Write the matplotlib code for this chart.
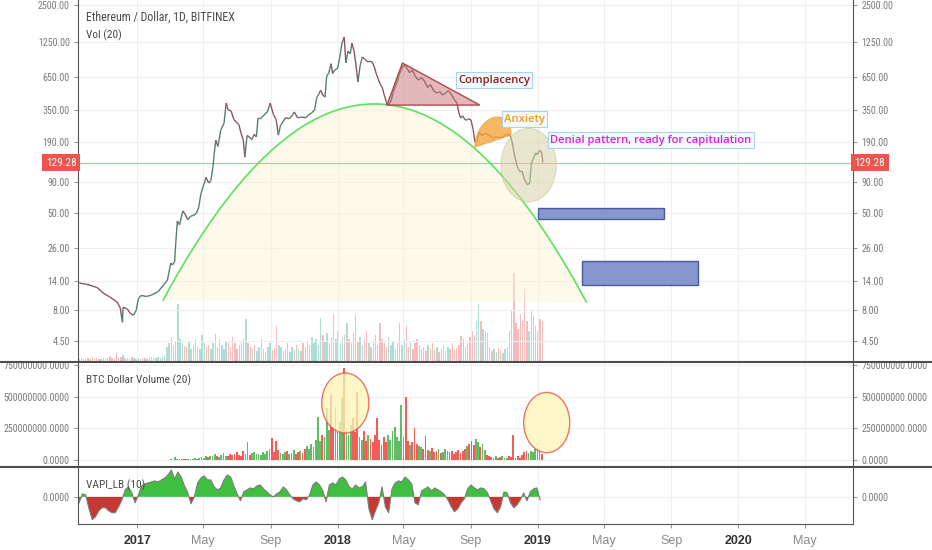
"""
ETH/USD (Bitfinex, 1D) with market-cycle annotations, BTC dollar volume and VAPI panes.
Writes out.png (932x550).
"""
import matplotlib
matplotlib.use("Agg")  # headless
import matplotlib.pyplot as plt
import matplotlib.dates as mdates
import matplotlib.ticker as mticker
from matplotlib import font_manager as fm
from matplotlib.collections import LineCollection
from matplotlib.lines import Line2D
from matplotlib.patches import Polygon, Rectangle, Ellipse
import numpy as np
import pandas as pd

PLAIN = ["Liberation Sans", "DejaVu Sans"]
LABEL = ["Open Sans", "DejaVu Sans"]
plt.rcParams["font.family"] = PLAIN

# ---- price path (closes) ----
price_dates = [
    "2016-09-15", "2016-09-18", "2016-10-03", "2016-10-20", "2016-11-01", "2016-11-12", "2016-11-25",
    "2016-12-01", "2016-12-05", "2016-12-06", "2016-12-14", "2016-12-19", "2016-12-25", "2016-12-30",
    "2017-01-03", "2017-01-08", "2017-01-18", "2017-01-27", "2017-02-07", "2017-02-18", "2017-02-25",
    "2017-03-03", "2017-03-06", "2017-03-10", "2017-03-12", "2017-03-15", "2017-03-19", "2017-03-25",
    "2017-03-28", "2017-04-03", "2017-04-08", "2017-04-14", "2017-04-19", "2017-04-23", "2017-04-27",
    "2017-04-30", "2017-05-04", "2017-05-06", "2017-05-11", "2017-05-15", "2017-05-19", "2017-05-21",
    "2017-05-24", "2017-05-28", "2017-06-02", "2017-06-08", "2017-06-12", "2017-06-15", "2017-06-21",
    "2017-06-26", "2017-07-02", "2017-07-05", "2017-07-09", "2017-07-13", "2017-07-15", "2017-07-16",
    "2017-07-20", "2017-07-24", "2017-07-29", "2017-08-02", "2017-08-06", "2017-08-09", "2017-08-15",
    "2017-08-20", "2017-08-26", "2017-08-30", "2017-08-31", "2017-09-06", "2017-09-11", "2017-09-15",
    "2017-09-19", "2017-09-22", "2017-09-28", "2017-10-05", "2017-10-11", "2017-10-14", "2017-10-20",
    "2017-10-27", "2017-11-04", "2017-11-09", "2017-11-15", "2017-11-20", "2017-11-24", "2017-11-28",
    "2017-12-01", "2017-12-05", "2017-12-09", "2017-12-12", "2017-12-16", "2017-12-20", "2017-12-23",
    "2017-12-27", "2018-01-01", "2018-01-05", "2018-01-09", "2018-01-13", "2018-01-16", "2018-01-20",
    "2018-01-24", "2018-01-27", "2018-01-31", "2018-02-03", "2018-02-05", "2018-02-07", "2018-02-11",
    "2018-02-15", "2018-02-20", "2018-02-25", "2018-03-01", "2018-03-05", "2018-03-09", "2018-03-12",
    "2018-03-16", "2018-03-20", "2018-03-23", "2018-03-27", "2018-03-31", "2018-04-01", "2018-04-05",
    "2018-04-09", "2018-04-12", "2018-04-16", "2018-04-20", "2018-04-23", "2018-04-27", "2018-05-01",
    "2018-05-06", "2018-05-12", "2018-05-17", "2018-05-23", "2018-05-28", "2018-06-03", "2018-06-08",
    "2018-06-14", "2018-06-19", "2018-06-25", "2018-06-30", "2018-07-06", "2018-07-11", "2018-07-17",
    "2018-07-22", "2018-07-28", "2018-08-02", "2018-08-06", "2018-08-10", "2018-08-13", "2018-08-17",
    "2018-08-21", "2018-08-24", "2018-08-28", "2018-09-01", "2018-09-05", "2018-09-08", "2018-09-12",
    "2018-09-16", "2018-09-21", "2018-09-27", "2018-10-04", "2018-10-11", "2018-10-19", "2018-10-26",
    "2018-11-02", "2018-11-08", "2018-11-12", "2018-11-15", "2018-11-19", "2018-11-23", "2018-11-26",
    "2018-11-30", "2018-12-03", "2018-12-07", "2018-12-11", "2018-12-13", "2018-12-17", "2018-12-20",
    "2018-12-24", "2018-12-28", "2018-12-31", "2019-01-04", "2019-01-08", "2019-01-10",
]
price_close = [
    13.5, 13.4, 13.0, 12.3, 11.0, 10.3, 9.4,
    8.4, 6.4, 8.5, 8.2, 7.6, 7.3, 8.0,
    10.0, 10.6, 10.4, 10.7, 11.3, 12.9, 14.2,
    19.5, 18.8, 20.0, 28.0, 43.0, 40.0, 52.0,
    50.0, 44.0, 47.0, 48.0, 50.0, 56.0, 72.0,
    80.0, 90.0, 98.0, 88.0, 92.0, 120.0, 150.0,
    197.0, 175.0, 238.0, 270.0, 396.0, 350.0, 340.0,
    290.0, 272.0, 265.0, 225.0, 200.0, 160.0, 143.0,
    215.0, 209.0, 200.0, 220.0, 209.0, 300.0, 300.0,
    316.0, 335.0, 380.0, 396.0, 320.0, 290.0, 217.0,
    260.0, 272.0, 300.0, 295.0, 316.0, 335.0, 300.0,
    304.0, 300.0, 316.0, 330.0, 347.0, 440.0, 470.0,
    505.0, 460.0, 443.0, 650.0, 700.0, 830.0, 690.0,
    737.0, 760.0, 940.0, 1224.0, 1370.0, 840.0, 1050.0,
    1000.0, 1224.0, 1050.0, 840.0, 700.0, 587.0, 800.0,
    940.0, 900.0, 855.0, 870.0, 855.0, 780.0, 696.0,
    620.0, 560.0, 535.0, 460.0, 400.0, 381.0, 390.0,
    420.0, 480.0, 540.0, 600.0, 680.0, 740.0, 809.0,
    780.0, 700.0, 737.0, 650.0, 610.0, 640.0, 600.0,
    530.0, 560.0, 500.0, 478.0, 490.0, 460.0, 478.0,
    500.0, 460.0, 419.0, 400.0, 330.0, 299.0, 310.0,
    290.0, 287.0, 295.0, 287.0, 240.0, 190.0, 195.0,
    229.0, 215.0, 225.0, 217.0, 205.0, 210.0, 205.0,
    217.0, 220.0, 212.0, 190.0, 150.0, 125.0, 115.0,
    108.0, 110.0, 95.0, 88.0, 85.0, 88.0, 128.0,
    140.0, 155.0, 150.0, 163.0, 155.0, 129.28,
]
LAST_PRICE = 129.28

# ---- ETH volume, 4-day buckets from vol_start (thousand ETH) ----
vol_start = "2016-09-15"
eth_volume = [
    2, 3, 2, 2, 3, 2, 4, 2, 3, 2,
    2, 3, 2, 3, 5, 3, 2, 8, 3, 4,
    6, 3, 3, 2, 4, 3, 2, 3, 2, 3,
    3, 2, 3, 4, 3, 3, 4, 3, 4, 5,
    14, 18, 24, 16, 20, 57, 22, 18, 15, 14,
    20, 12, 16, 22, 14, 12, 26, 18, 14, 16,
    12, 18, 27, 14, 22, 16, 12, 20, 18, 14,
    24, 18, 12, 16, 20, 22, 42, 18, 14, 12,
    16, 10, 14, 22, 12, 9, 14, 18, 11, 13,
    35, 16, 14, 10, 12, 18, 9, 14, 11, 16,
    12, 10, 18, 14, 20, 16, 24, 18, 22, 16,
    43, 26, 20, 28, 18, 24, 47, 22, 30, 18,
    24, 26, 38, 22, 18, 28, 47, 20, 24, 16,
    22, 30, 18, 14, 20, 26, 16, 38, 22, 18,
    14, 24, 16, 20, 12, 18, 38, 16, 22, 35,
    14, 20, 12, 18, 22, 16, 12, 14, 10, 16,
    12, 18, 11, 14, 9, 12, 16, 10, 14, 12,
    18, 11, 13, 16, 25, 22, 14, 18, 24, 30,
    26, 40, 57, 40, 32, 30, 28, 14, 10, 12,
    9, 13, 11, 8, 12, 14, 30, 50, 88, 38,
    32, 47, 40, 72, 40, 30, 50, 45, 35, 30,
    42, 40,
]

# ---- BTC dollar volume (20), 4-day buckets, million USD ----
btc_start = "2017-02-25"
btc_dollar_vol = [
    3, 5, 4, 24, 8, 5, 7, 10, 6, 8,
    12, 9, 14, 10, 18, 25, 20, 30, 22, 35,
    28, 45, 30, 25, 40, 55, 32, 28, 45, 38,
    50, 60, 42, 35, 70, 48, 142, 40, 55, 62,
    45, 50, 38, 60, 48, 70, 90, 174, 65, 150,
    80, 55, 48, 62, 70, 45, 58, 79, 50, 62,
    75, 58, 90, 110, 85, 130, 100, 160, 339, 150,
    200, 180, 410, 240, 513, 260, 420, 220, 300, 489,
    726, 250, 200, 280, 331, 220, 537, 180, 160, 230,
    150, 197, 170, 140, 200, 331, 160, 120, 180, 140,
    200, 160, 230, 260, 180, 150, 434, 180, 497, 150,
    120, 140, 252, 130, 110, 100, 90, 189, 80, 70,
    95, 60, 75, 85, 55, 65, 90, 70, 60, 75,
    50, 65, 80, 55, 70, 90, 110, 130, 150, 120,
    166, 140, 100, 130, 80, 40, 30, 25, 20, 28,
    18, 24, 30, 15, 20, 35, 25, 197, 18, 30,
    20, 40, 60, 75, 55, 70, 60, 85, 95, 70,
    50,
]

# ---- VAPI_LB (10), 6-day steps ----
vapi_start = "2016-09-17"
vapi = [
    -6, 3, 2, -12, -23, -20, -14, -11, -11, -14,
    -16, -16, -10, -3, 7, 10, 4, -6, 2, 11,
    13, 14, 15, 16, 15, 17, 19, 22, 27, 18,
    25, 20, 11, 4, -7, 0, 14, 19, 21, 17,
    17, 10, 7, 9, 17, 22, 20, 11, 3, -4,
    5, 7, 9, 8, 11, 12, 8, 5, 2, 0,
    3, 5, 10, 7, 2, -2, -4, -5, -2, -3,
    2, 12, 15, 12, 6, -5, 12, 14, 12, 18,
    20, 17, 10, 8, 12, 9, 10, 15, -12, -23,
    -14, -6, 10, -10, -16, 8, 14, 16, 15, 20,
    17, 13, -6, -8, 6, 8, 10, 6, 9, 7,
    5, 2, -3, -10, -15, -12, -6, -2, 8, 12,
    9, 7, 9, 8, 4, -4, -12, -16, -10, 5,
    4, -6, -11, -8, -3, 4, -4, 5, 8, 9,
    -3,
]

# ---- drawings (anchors as date, price) ----
arc_anchors = [("2017-02-17", 9.7), ("2018-03-19", 388.0), ("2019-03-30", 9.4)]
complacency_tri = [("2018-04-01", 381.0), ("2018-04-29", 840.0), ("2018-09-17", 381.0)]
anxiety_base = [("2018-09-08", 173.0), ("2018-11-13", 217.0)]
ANXIETY_RISE = 0.19            # decades
denial_center = ("2018-12-15", 123.0)
DENIAL_HALF_DAYS, DENIAL_HALF_DEC = 50.5, 0.30
target_zones = [("2019-01-01", "2019-08-19", 44.6, 54.9),
                ("2019-03-23", "2019-10-19", 12.9, 20.2)]
btc_circles = [("2018-01-15", 450.0, 43, 237.0), ("2019-01-17", 296.0, 42, 238.0)]
notes = [("Complacency", "2018-10-13", 610.0, "#8b1c1c"),
         ("Anxiety", "2018-12-07", 293.0, "#f39c12"),
         ("Denial pattern, ready for capitulation", "2019-07-26", 197.0, "#e01ee0")]

price_ticks = [2500, 1250, 650, 350, 190, 90, 50, 26, 14, 8, 4.5]
btc_ticks = [0, 250, 500, 750]
xt_dates = ["2017-01-01", "2017-05-01", "2017-09-01", "2018-01-01", "2018-05-01", "2018-09-01",
            "2019-01-01", "2019-05-01", "2019-09-01", "2020-01-01", "2020-05-01"]
xt_labels = ["2017", "May", "Sep", "2018", "May", "Sep", "2019", "May", "Sep", "2020", "May"]

GRID = "#efefef"
SPINE = "#555555"
TICKTXT = "#7a7a7a"


def find_condensed():
    """First installed narrow/condensed sans face, or None."""
    for fam in ["Liberation Sans Narrow", "Roboto Condensed", "Open Sans Condensed",
                "Noto Sans Condensed", "DejaVu Sans Condensed", "Noto Sans", "DejaVu Sans", "Roboto"]:
        try:
            path = fm.findfont(fm.FontProperties(family=fam, stretch="condensed"),
                               fallback_to_default=False)
        except Exception:
            continue
        if "condensed" in path.lower() or "narrow" in path.lower():
            return path
    return None


COND = find_condensed()
if COND:
    TICK_FP = fm.FontProperties(fname=COND, size=7.2)
    HEAD_FP = fm.FontProperties(fname=COND, size=8.2)
    TITLE_FP = fm.FontProperties(fname=COND, size=8.6, weight="semibold")
else:
    TICK_FP = fm.FontProperties(family="Liberation Sans", size=6.2)
    HEAD_FP = fm.FontProperties(family="Open Sans", size=6.8)
    TITLE_FP = fm.FontProperties(family="Open Sans", size=7.0, weight="semibold")


def dnum(s):
    return mdates.date2num(pd.to_datetime(s))


def style_axis(a):
    a.grid(True, color=GRID, lw=0.8, zorder=0)
    a.set_axisbelow(True)
    for side in ("left", "right"):
        a.spines[side].set_color(SPINE)
    a.spines["top"].set_visible(False)
    a.spines["bottom"].set_visible(False)
    a.tick_params(axis="y", which="both", left=True, right=True, labelleft=True, labelright=True,
                  direction="out", length=3, width=0.8, color="#999999", labelcolor=TICKTXT, pad=3)
    a.tick_params(axis="x", bottom=False, labelbottom=False)
    for tk in a.yaxis.get_major_ticks():
        tk.label1.set_fontproperties(TICK_FP)
        tk.label2.set_fontproperties(TICK_FP)


def head(a, y, txt, fp):
    a.text(0.0103, y, txt, transform=a.transAxes, ha="left", va="center", color="#4a4a4a",
           fontproperties=fp)


px = np.array(dnum(price_dates))
pc = np.array(price_close)
lp = np.log10(pc)

fig = plt.figure(figsize=(9.32, 5.5), dpi=100)
L, W = 78 / 932, 775 / 932
main_rect = [L, 1 - 361 / 550, W, 361 / 550]

# volume overlay sits underneath the price axes
ax_vol = fig.add_axes(main_rect)
ax = fig.add_axes(main_rect, sharex=ax_vol)
ax.patch.set_visible(False)
for s in ax_vol.spines.values():
    s.set_visible(False)
ax_vol.tick_params(left=False, right=False, bottom=False, labelleft=False, labelbottom=False)

vx = dnum(pd.date_range(vol_start, periods=len(eth_volume), freq="4D")) + 2
v_up = np.interp(vx + 2, px, lp) >= np.interp(vx - 2, px, lp)
ax_vol.bar(vx, eth_volume, width=2.6, color=np.where(v_up, "#9fd8cd", "#f5b0b0"), alpha=0.85, lw=0)
ax_vol.set_ylim(0, 361)

ax.set_yscale("log")
ax.set_ylim(3.09, 2750)
ax.yaxis.set_major_locator(mticker.FixedLocator(price_ticks))
ax.yaxis.set_major_formatter(mticker.FixedFormatter([f"{v:.2f}" for v in price_ticks]))
ax.yaxis.set_minor_locator(mticker.NullLocator())
style_axis(ax)

# parabolic bubble arc through three anchors (log space)
an_x = dnum([d for d, _ in arc_anchors])
an_y = np.log10([p for _, p in arc_anchors])
coef = np.polyfit(an_x, an_y, 2)
xs = np.linspace(an_x[0], an_x[-1], 400)
arc = 10 ** np.polyval(coef, xs)
chord = 10 ** np.interp(xs, [an_x[0], an_x[-1]], [an_y[0], an_y[-1]])
ax.fill_between(xs, chord, arc, color="#fbf5cf", alpha=0.45, lw=0, zorder=1)
ax.plot(xs, arc, color="#5ee05e", lw=1.2, zorder=3)

# price line coloured by direction
seg = np.stack([np.column_stack([px[:-1], pc[:-1]]), np.column_stack([px[1:], pc[1:]])], axis=1)
seg_col = np.where(np.diff(pc) >= 0, "#557f73", "#8c5560")
ax.add_collection(LineCollection(seg, colors=seg_col, lw=1.0, zorder=4))

ax.axhline(LAST_PRICE, color="#f3a3a3", lw=0.8, zorder=2)

tri = [(dnum(d), p) for d, p in complacency_tri]
ax.add_patch(Polygon(tri, closed=True, fc=(0.78, 0.45, 0.47, 0.5), ec="#b5474b", lw=1, zorder=5))

ab_x = dnum([d for d, _ in anxiety_base])
ab_y = np.log10([p for _, p in anxiety_base])
t = np.linspace(0, 1, 80)
dome_x = ab_x[0] + t * (ab_x[1] - ab_x[0])
dome_y = ab_y[0] + t * (ab_y[1] - ab_y[0]) + ANXIETY_RISE * np.sqrt(1 - (2 * t - 1) ** 2)
ax.fill(dome_x, 10 ** dome_y, fc="#f6a640", ec="#f2a035", alpha=0.8, lw=0.8, zorder=5)

th = np.linspace(0, 2 * np.pi, 120)
ex = dnum(denial_center[0]) + DENIAL_HALF_DAYS * np.cos(th)
ey = 10 ** (np.log10(denial_center[1]) + DENIAL_HALF_DEC * np.sin(th))
ax.fill(ex, ey, fc="#d6d3a6", ec="#c9c59a", alpha=0.55, lw=0.8, zorder=5)

for d0, d1, lo, hi in target_zones:
    x0, x1 = dnum(d0), dnum(d1)
    ax.add_patch(Rectangle((x0, lo), x1 - x0, hi - lo, fc="#7a8cc8", ec="#3b4d9e", lw=1,
                           alpha=0.9, zorder=5))

for txt, d, p, col in notes:
    ax.text(dnum(d), p, txt, ha="center", va="center", color=col, fontsize=8.1,
            family=LABEL, weight="semibold", zorder=6,
            bbox=dict(boxstyle="square,pad=0.2", fc="#f4fbff", ec="#a9d4ee", lw=0.8))

for xa, ha in ((-0.002, "right"), (1.002, "left")):
    ax.text(xa, LAST_PRICE, "129.28", transform=ax.get_yaxis_transform(), ha=ha, va="center",
            color="white", fontproperties=TICK_FP, fontsize=8, zorder=7,
            bbox=dict(boxstyle="square,pad=0.35", fc="#ef5350", ec="none"))

head(ax, 0.953, "Ethereum / Dollar, 1D, BITFINEX", TITLE_FP)
head(ax, 0.903, "Vol (20)", HEAD_FP)

# ---- BTC dollar volume pane ----
ax_b = fig.add_axes([L, 1 - 466 / 550, W, 104 / 550], sharex=ax)
bx = dnum(pd.date_range(btc_start, periods=len(btc_dollar_vol), freq="4D")) + 2
b_up = np.interp(bx + 2, px, lp) >= np.interp(bx - 2, px, lp)
ax_b.bar(bx, btc_dollar_vol, width=3.2, color=np.where(b_up, "#46b04a", "#f23f3a"), alpha=0.85, lw=0)
for d, v, hd, hv in btc_circles:
    ax_b.add_patch(Ellipse((dnum(d), v), 2 * hd, 2 * hv, fc="#fff5b5", ec="#e8493c", lw=1,
                           alpha=0.75, zorder=4))
ax_b.set_ylim(-47, 774)
ax_b.yaxis.set_major_locator(mticker.FixedLocator(btc_ticks))
ax_b.yaxis.set_major_formatter(mticker.FixedFormatter([f"{v * 1e6:.4f}" for v in btc_ticks]))
style_axis(ax_b)
head(ax_b, 0.827, "BTC Dollar Volume (20)", HEAD_FP)

# ---- VAPI pane ----
ax_v = fig.add_axes([L, 1 - 524 / 550, W, 57 / 550], sharex=ax)
vpx = dnum(pd.date_range(vapi_start, periods=len(vapi), freq="6D"))
va_ = np.array(vapi, dtype=float)
ax_v.fill_between(vpx, va_, 0, where=va_ >= 0, interpolate=True, color="#3fbf3f", lw=0)
ax_v.fill_between(vpx, va_, 0, where=va_ < 0, interpolate=True, color="#c43a33", lw=0)
ax_v.plot(vpx, va_, color="#7d7d7d", lw=0.8)
ax_v.set_ylim(-27.3, 30)
ax_v.yaxis.set_major_locator(mticker.FixedLocator([0]))
ax_v.yaxis.set_major_formatter(mticker.FixedFormatter(["0.0000"]))
style_axis(ax_v)
ax_v.spines["bottom"].set_visible(True)
ax_v.spines["bottom"].set_color(SPINE)
head(ax_v, 0.672, "VAPI_LB (10)", HEAD_FP)

ax_v.set_xlim(dnum("2016-09-15"), dnum("2020-07-28"))
ax_v.set_xticks(dnum(xt_dates))
ax_v.set_xticklabels(xt_labels)
ax_v.tick_params(axis="x", bottom=True, labelbottom=True, direction="out", length=3,
                 color="#999999", pad=5)
for lab in ax_v.get_xticklabels():
    lab.set_family(PLAIN)
    lab.set_fontsize(9)
    if lab.get_text().isdigit():
        lab.set_weight("bold")
        lab.set_color("#333333")
    else:
        lab.set_color("#8a8a8a")

# pane separators run the full width
for ypix in (361.5, 466.5):
    fig.add_artist(Line2D([0, 1], [1 - ypix / 550] * 2, transform=fig.transFigure,
                          color="#4d4d4d", lw=1.5))

fig.savefig("out.png", dpi=100, facecolor="white")
